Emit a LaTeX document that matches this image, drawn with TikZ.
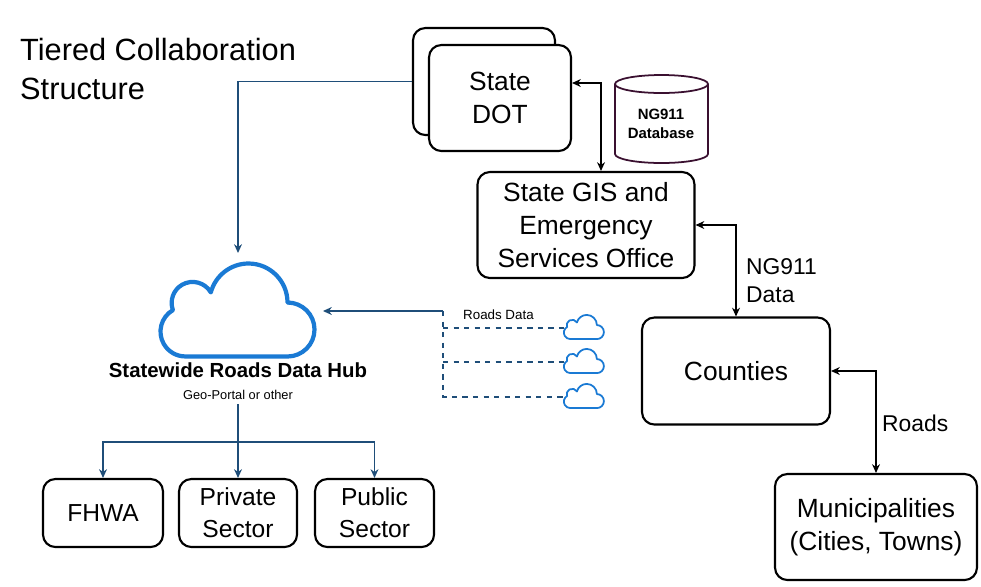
\documentclass[tikz,border=0pt]{standalone}
\usepackage{fontspec}
\setmainfont{Liberation Sans}
\usetikzlibrary{arrows.meta,positioning}
\definecolor{navy}{HTML}{1F4E79}
\definecolor{cloudblue}{HTML}{1A7AD4}
\definecolor{dbline}{HTML}{3A1030}
\tikzset{
  box/.style={draw, rounded corners=7pt, line width=1.2pt, align=center, fill=white,
    font=\fontsize{15}{19}\selectfont, inner sep=0pt},
  smallbox/.style={box, font=\fontsize{14}{18}\selectfont, minimum width=2.36cm, minimum height=1.36cm},
  link/.style={line width=0.8pt, {Stealth[length=5pt,width=4.5pt]}-{Stealth[length=5pt,width=4.5pt]}},
  feed/.style={navy, line width=0.8pt, -{Stealth[length=5pt,width=4.5pt]}},
  pics/cloudicon/.style={code={
    \draw[cloudblue, line join=round] [yscale=-1, shift={(-4.9,-3.1)}]
      (2,0) -- (8.2,0) arc[start angle=-90, end angle=90, radius=1.8]
      arc[start angle=0, end angle=165, radius=2.6]
      arc[start angle=30, end angle=200, radius=1.4]
      arc[start angle=120, end angle=270, radius=1.656] -- cycle;}}
}
\begin{document}
\begin{tikzpicture}[x=0.02cm, y=-0.02cm]
  \useasboundingbox (0,0) rectangle (981,586);

  \node[anchor=north west, align=left, font=\fontsize{17.5}{22}\selectfont] (title) at (14,32)
    {Tiered Collaboration\\Structure};

  % state level
  \node[box, minimum width=2.84cm, minimum height=2.14cm] (dotb) at (484,81.5) {};
  \node[box, minimum width=2.84cm, minimum height=2.12cm] (dotf) at (500,98) {State\\DOT};
  \node[box, minimum width=4.34cm, minimum height=2.12cm] (gis) at (586,225)
    {State GIS and\\Emergency\\Services Office};

  % NG911 database
  \draw[dbline, line width=1pt, fill=white] (615,84) -- (615,154)
    arc[start angle=180, end angle=0, x radius=46.5, y radius=9] -- (708,84);
  \draw[dbline, line width=1pt] (661.5,84) ellipse[x radius=46.5, y radius=9];
  \node[align=center, font=\bfseries\fontsize{8.5}{11}\selectfont] (db) at (661,124) {NG911\\Database};

  % local level
  \node[box, minimum width=3.76cm, minimum height=2.14cm] (cty) at (736,371) {Counties};
  \node[box, minimum width=4.04cm, minimum height=2.12cm] (muni) at (876,527)
    {Municipalities\\(Cities, Towns)};

  \draw[link] (dotf.east |- 0,83) -| (gis.north -| 601,0);
  \draw[link] (gis.east) -| (cty.north);
  \draw[link] (cty.east) -| (muni.north);
  \node[anchor=north west, align=left, font=\fontsize{13}{16}\selectfont] (ngd) at (740,252) {NG911\\Data};
  \node[anchor=west, font=\fontsize{13}{16}\selectfont] (rds) at (876,423) {Roads};

  % data hub
  \pic[line width=2.4pt, scale=15] at (238,310) {cloudicon};
  \node[font=\bfseries\fontsize{11.6}{14}\selectfont] (hub) at (238,370) {Statewide Roads Data Hub};
  \node[font=\fontsize{7.3}{9}\selectfont, below=0pt of hub] (portal) {Geo-Portal or other};
  \coordinate (hubtop) at (238,253);
  \coordinate (hubr) at (323,311);
  \draw[feed] (dotb.west) -| (hubtop);

  % outside feeds
  \coordinate (rdtop) at (443,311);
  \coordinate (cl1) at (564,328);
  \coordinate (cl2) at (564,362);
  \coordinate (cl3) at (564,397);
  \foreach \y in {327,361,396}
    \pic[line width=1pt, scale=3.9] at (584,\y) {cloudicon};
  \draw[feed] (rdtop) -- (hubr);
  \draw[navy, line width=0.8pt, dashed] (rdtop) |- (cl3);
  \draw[navy, line width=0.8pt, dashed] (cl1 -| rdtop) -- (cl1);
  \draw[navy, line width=0.8pt, dashed] (cl2 -| rdtop) -- (cl2);
  \node[font=\fontsize{7.6}{9}\selectfont, anchor=west] (rdlab) at (457,315) {Roads Data};

  % users
  \node[smallbox, minimum width=2.4cm] (fhwa) at (103,513) {FHWA};
  \node[smallbox] (priv) at (238,513) {Private\\Sector};
  \node[smallbox, minimum width=2.38cm] (pub) at (374.5,513) {Public\\Sector};
  \coordinate (split) at (238,442);
  \draw[navy, line width=0.8pt] (238,404) -- (split);
  \draw[feed] (split) -| (fhwa.north);
  \draw[feed] (split) -- (priv.north);
  \draw[feed] (split) -| (pub.north);
\end{tikzpicture}
\end{document}
